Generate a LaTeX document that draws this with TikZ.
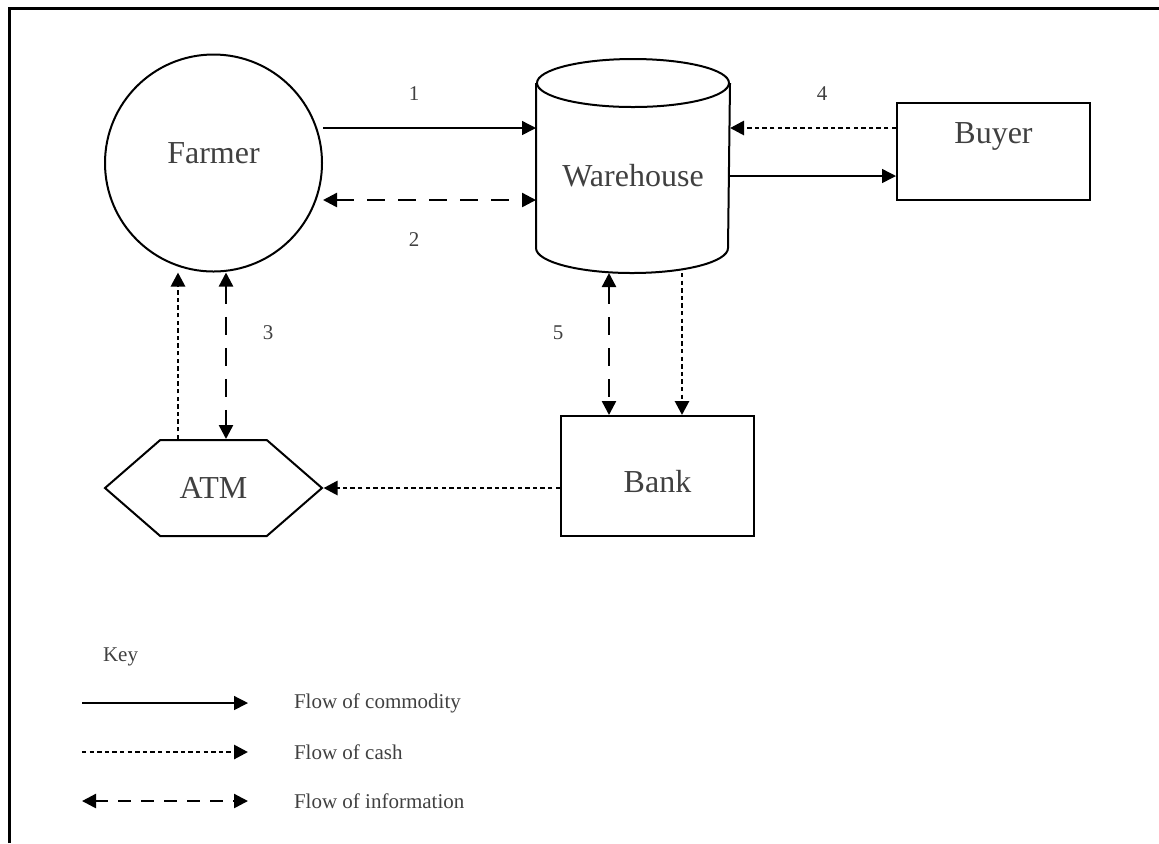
\documentclass[tikz,border=0pt]{standalone}
\usepackage{fontspec}
\setmainfont{Liberation Serif}
\usetikzlibrary{arrows.meta,positioning,shapes.symbols,calc}
\definecolor{txtgray}{RGB}{64,64,64}

\begin{document}
\begin{tikzpicture}[x=0.5pt, y=-0.5pt,
    party/.style={draw, line width=1pt, inner sep=0pt, text=txtgray,
      font=\fontsize{16}{19}\selectfont},
    small/.style={text=txtgray, font=\fontsize{10.5}{12.6}\selectfont},
    commod/.style={-{Triangle[length=7pt,width=7pt]}, line width=0.7pt},
    cash/.style={-{Triangle[length=7pt,width=7pt]}, line width=1.4pt, dash pattern=on 2.2pt off 1.6pt},
    info/.style={{Triangle[length=7pt,width=7pt]}-{Triangle[length=7pt,width=7pt]},
      line width=1.2pt, dash pattern=on 9pt off 6.5pt}
  ]
    \useasboundingbox (0,0) rectangle (1159,843);
    \draw[line width=1.5pt] (9,843) -- (9,8) -- (1159,8);

    \node[party, circle, minimum size=108.5pt, text height=12pt, text depth=12pt] (farmer) at (213.5,163) {Farmer};
    \node[party, draw=none, rectangle, minimum width=96pt, minimum height=106pt,
      text height=22pt, text depth=2pt] (wh) at (633,166) {Warehouse};
    \node[party, rectangle, minimum width=96.5pt, minimum height=48.5pt,
      text height=20pt, text depth=28.5pt] (buyer) at (993.5,151.5) {Buyer};
    \node[party, rectangle, minimum width=96.5pt, minimum height=60pt,
      text height=18pt, text depth=2pt] (bank) at (657.5,476) {Bank};
    \node[party, signal, signal to=west and east, signal pointer angle=82,
      minimum width=108.5pt, minimum height=48pt] (atm) at (213.5,488) {ATM};

    % warehouse drum
    \draw[line width=1pt] ($(wh.north)+(0,24)$) ellipse (48pt and 12pt);
    \draw[line width=1pt] ($(wh.north west)+(0,24)$) -- ($(wh.south west)+(0,-25)$)
      arc[start angle=180, end angle=360, x radius=48pt, y radius=12.5pt]
      -- ($(wh.north east)+(0,24)$);

    % flows
    \draw[commod] ($(farmer.east)+(0,-35)$) -- ($(wh.west)+(0,-38)$);
    \draw[info] ($(farmer.east)+(0,37)$) -- ($(wh.west)+(0,34)$);
    \draw[cash] ($(buyer.west)+(0,-23.5)$) -- ($(wh.east)+(0,-38)$);
    \draw[commod] ($(wh.east)+(0,10)$) -- ($(buyer.west)+(0,24.5)$);
    \draw[info] ($(wh.south)+(-24,0)$) -- ($(bank.north)+(-48.5,0)$);
    \draw[cash] ($(wh.south)+(49,0)$) -- ($(bank.north)+(24.5,0)$);
    \draw[cash] ($(bank.west)+(0,12)$) -- (atm.east);
    \draw[cash] ($(atm.north)+(-35.5,0)$) -- ($(farmer.south)+(-35.5,0)$);
    \draw[info] ($(farmer.south)+(12.5,0)$) -- ($(atm.north)+(12.5,0)$);

    \node[small] (n1) at (414,94) {1};
    \node[small] (n2) at (414,240) {2};
    \node[small] (n3) at (268,333) {3};
    \node[small] (n4) at (822,94) {4};
    \node[small] (n5) at (558,333) {5};

    % key
    \node[small, anchor=west] (key) at (96,657) {Key};
    \coordinate (k1a) at (82,703);  \coordinate (k1b) at (248,703);
    \coordinate (k2a) at (82,752);  \coordinate (k2b) at (248,752);
    \coordinate (k3a) at (82,801);  \coordinate (k3b) at (248,801);
    \draw[commod] (k1a) -- (k1b);
    \draw[cash] (k2a) -- (k2b);
    \draw[info, dash pattern=on 6.5pt off 5pt] (k3a) -- (k3b);
    \node[small, anchor=west] (l1) at (287,703) {Flow of commodity};
    \node[small, anchor=west] (l2) at (287,752) {Flow of cash};
    \node[small, anchor=west] (l3) at (287,801) {Flow of information};
  \end{tikzpicture}
\end{document}
